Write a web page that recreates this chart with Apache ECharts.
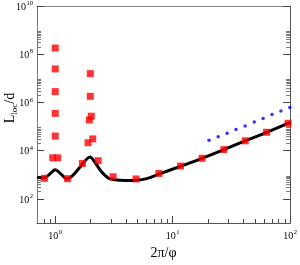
<!DOCTYPE html>
<html>
<head>
<meta charset="utf-8">
<script src="https://cdn.jsdelivr.net/npm/echarts@6/dist/echarts.min.js"></script>
<style>html,body{margin:0;padding:0;background:#fff}#c{width:300px;height:265px}</style>
</head>
<body>
<div id="c"></div>
<script>
// ---- data ----
var curveX = [0.7, 0.8, 0.882, 1.0, 1.14, 1.257, 1.385, 1.63, 1.979, 2.18, 2.478, 2.82, 3.11, 3.98, 4.89, 6.01, 7.63, 11.6, 17.8, 27.3, 41.5, 63.1, 100];
var curveY = [798, 743, 1000, 1645, 1000, 678, 857, 2113, 5560, 3330, 1346, 743, 637, 582, 597, 697, 1064, 2254, 4850, 11140, 25800, 58200, 150000];
var redX = [0.81, 0.953, 1.05, 1.0, 1.0, 1.0, 1.0, 1.0, 1.274, 1.705, 1.904, 2.089, 1.952, 2.03, 1.99, 1.99, 2.32, 3.11, 4.88, 7.63, 11.67, 17.8, 27.3, 41.5, 63.1, 96.2];
var redY = [720, 5080, 5080, 40500, 354000, 2830000, 24700000, 180000000, 697, 2960, 21500, 30900, 188000, 270000, 1800000, 15700000, 3870, 835, 678, 1145, 2317, 4850, 11140, 25800, 58200, 137000];
var blueX = [20.4, 24.4, 29.1, 34.6, 41.4, 49.5, 58.9, 70.1, 83.5, 99.4];
var blueY = [27000, 37700, 53100, 75000, 107000, 157000, 219000, 315000, 444000, 626000];
// ---- ticks ----
var xMajor = [1, 10, 100];
var xMinor = [0.8, 0.9, 2, 3, 4, 5, 6, 7, 8, 9, 20, 30, 40, 50, 60, 70, 80, 90];
var yMajor = [100, 1e4, 1e6, 1e8, 1e10];
var yMinor = [200, 300, 400, 500, 600, 700, 800, 900,
              2e4, 3e4, 4e4, 5e4, 6e4, 7e4, 8e4, 9e4,
              2e6, 3e6, 4e6, 5e6, 6e6, 7e6, 8e6, 9e6,
              2e8, 3e8, 4e8, 5e8, 6e8, 7e8, 8e8, 9e8];

function zip(a, b) { return a.map(function (v, i) { return [v, b[i]]; }); }

var FONT = 'Liberation Serif';
var rich = {
  b: { fontFamily: FONT, fontSize: 10, color: '#000', lineHeight: 12, verticalAlign: 'bottom' },
  s: { fontFamily: FONT, fontSize: 6.5, color: '#000', lineHeight: 12, verticalAlign: 'top', padding: [0, 0, 0, 0.5] }
};
function powLabel(v) {
  var e = Math.round(Math.log(v) / Math.LN10);
  return '{b|10}{s|' + e + '}';
}
var lineC = '#555';

function xAx(opts) {
  return Object.assign({
    type: 'log', logBase: 10, min: 0.7, max: 100, position: 'bottom',
    axisLine: { show: false, onZero: false, lineStyle: { color: lineC, width: 1 } },
    axisTick: { show: false },
    axisLabel: { show: false },
    splitLine: { show: false }, minorTick: { show: false }
  }, opts);
}
function yAx(opts) {
  return Object.assign({
    type: 'log', logBase: 10, min: 10, max: 1e10, position: 'left',
    axisLine: { show: false, onZero: false, lineStyle: { color: lineC, width: 1 } },
    axisTick: { show: false },
    axisLabel: { show: false },
    splitLine: { show: false }, minorTick: { show: false }
  }, opts);
}

var chart = echarts.init(document.getElementById('c'), null, { renderer: 'canvas' });
chart.setOption({
  animation: false,
  backgroundColor: '#fff',
  grid: { left: 37, right: 7, top: 5, bottom: 29, containLabel: false },
  xAxis: [
    xAx({
      axisLine: { show: true, onZero: false, lineStyle: { color: lineC, width: 1 } },
      axisTick: { show: true, inside: true, length: 7, customValues: xMajor, lineStyle: { color: '#444' } },
      axisLabel: { show: true, customValues: xMajor, margin: 6, formatter: powLabel, rich: rich, hideOverlap: false },
      name: '2\u03c0/\u03c6', nameLocation: 'middle', nameGap: 20,
      nameTextStyle: { fontFamily: FONT, fontSize: 14, color: '#000' }
    }),
    xAx({
      axisTick: { show: true, inside: true, length: 4, customValues: xMinor, lineStyle: { color: '#444' } }
    }),
    xAx({
      position: 'top',
      axisLine: { show: true, onZero: false, lineStyle: { color: '#888', width: 1 } }
    })
  ],
  yAxis: [
    yAx({
      axisLine: { show: true, onZero: false, lineStyle: { color: '#777', width: 1 } },
      axisTick: { show: true, inside: true, length: 7, customValues: yMajor, lineStyle: { color: '#444' } },
      axisLabel: { show: true, customValues: yMajor, margin: 4, formatter: powLabel, rich: rich, hideOverlap: false }
    }),
    yAx({
      axisTick: { show: true, inside: true, length: 4, customValues: yMinor, lineStyle: { color: '#777' } }
    }),
    yAx({
      position: 'right',
      axisLine: { show: true, onZero: false, lineStyle: { color: lineC, width: 1 } },
      axisTick: { show: true, inside: true, length: 7, customValues: yMajor, lineStyle: { color: '#444' } }
    }),
    yAx({
      position: 'right',
      axisTick: { show: true, inside: true, length: 4, customValues: yMinor, lineStyle: { color: '#777' } }
    })
  ],
  graphic: [{
    type: 'text', x: 11, y: 108, rotation: Math.PI / 2,
    style: {
      text: '{a|L}{b|loc}{a|/d}',
      align: 'center', verticalAlign: 'middle',
      rich: {
        a: { fontFamily: FONT, fontSize: 14, fill: '#000', lineHeight: 16, verticalAlign: 'top' },
        b: { fontFamily: FONT, fontSize: 9, fill: '#000', lineHeight: 16, verticalAlign: 'bottom' }
      }
    }
  }],
  series: [
    {
      type: 'line', xAxisIndex: 0, yAxisIndex: 0, data: zip(curveX, curveY),
      smooth: 0.3, showSymbol: false, symbol: 'none',
      lineStyle: { color: '#000', width: 3 }, z: 2
    },
    {
      type: 'scatter', xAxisIndex: 0, yAxisIndex: 0, data: zip(redX, redY),
      symbol: 'rect', symbolSize: 7, itemStyle: { color: '#ff0000' }, z: 3
    },
    {
      type: 'scatter', xAxisIndex: 0, yAxisIndex: 0, data: zip(blueX, blueY),
      symbol: 'circle', symbolSize: 3.5, itemStyle: { color: '#0000ff' }, z: 3
    }
  ]
});
</script>
</body>
</html>
